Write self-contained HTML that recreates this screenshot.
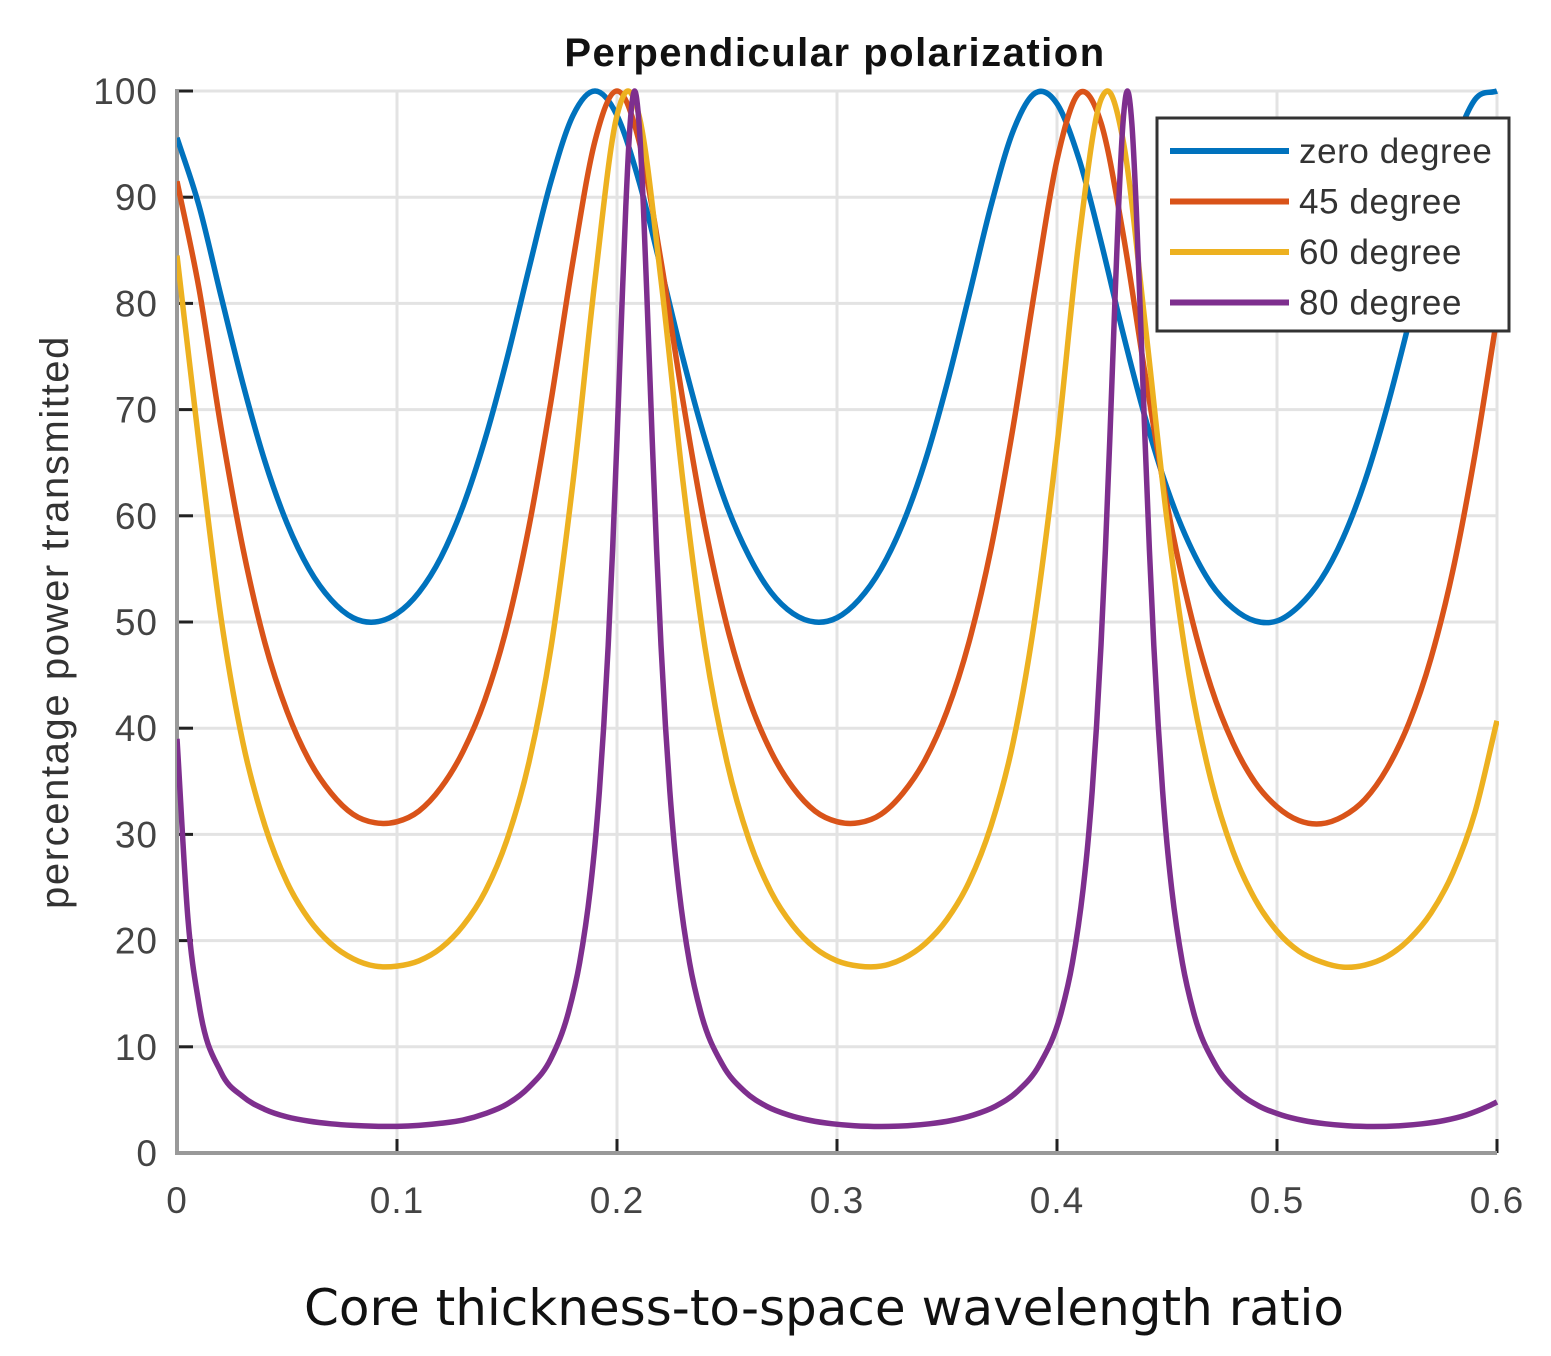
<!DOCTYPE html>
<html><head><meta charset="utf-8">
<style>
html,body{margin:0;padding:0;background:#fff;}
svg text{font-family:"Liberation Sans",sans-serif;}
</style></head>
<body>
<svg id="chart" width="1551" height="1351" viewBox="0 0 1551 1351" xmlns="http://www.w3.org/2000/svg">
<defs><clipPath id="clip"><rect x="177" y="86" width="1322" height="1070"/></clipPath></defs>
<rect width="1551" height="1351" fill="#fff"/>
<g id="grid"></g>
<g id="axes"></g>
<g id="series" clip-path="url(#clip)"></g>
<text x="835" y="66" text-anchor="middle" font-size="40" font-weight="bold" fill="#111" letter-spacing="1.5">Perpendicular polarization</text>
<text transform="translate(68,622) rotate(-90)" text-anchor="middle" font-size="40" fill="#333" letter-spacing="1.6">percentage power transmitted</text>
<text x="824" y="1325" text-anchor="middle" font-size="50" fill="#111" style="font-family:'DejaVu Sans',sans-serif">Core thickness-to-space wavelength ratio</text>
<g id="legend"></g>
</svg>
<script>
const xTicks = [0, 0.1, 0.2, 0.3, 0.4, 0.5, 0.6];
const xTickLabels = ["0", "0.1", "0.2", "0.3", "0.4", "0.5", "0.6"];
const yTicks = [0, 10, 20, 30, 40, 50, 60, 70, 80, 90, 100];
const seriesNames = ["zero degree", "45 degree", "60 degree", "80 degree"];
const seriesColors = ["#0072BD", "#D95319", "#EDB120", "#7E2F8E"];

const xGrid = [0,0.01,0.02,0.03,0.04,0.05,0.06,0.07,0.08,0.09,0.1,0.11,0.12,0.13,0.14,0.15,0.16,0.17,0.18,0.19,0.2,0.21,0.22,0.23,0.24,0.25,0.26,0.27,0.28,0.29,0.3,0.31,0.32,0.33,0.34,0.35,0.36,0.37,0.38,0.39,0.4,0.41,0.42,0.43,0.44,0.45,0.46,0.47,0.48,0.49,0.5,0.51,0.52,0.53,0.54,0.55,0.56,0.57,0.58,0.59,0.6];
const yZero = [95.6,89.2,80.7,72.4,65.1,59.3,55.0,52.1,50.4,50.0,50.8,52.8,56.1,60.9,67.2,74.8,83.3,91.5,97.7,100,97.7,91.5,83.3,74.8,67.2,60.9,56.2,52.8,50.8,50.0,50.4,52.1,55.0,59.3,65.1,72.4,80.7,89.2,96.2,99.8,98.8,93.6,85.8,77.2,69.3,62.6,57.4,53.6,51.3,50.1,50.1,51.5,54.0,57.9,63.3,70.2,78.2,86.8,94.4,99.2,100];
const y45 = [91.5,81.4,68.3,56.9,48.0,41.6,37.0,33.9,31.9,31.1,31.2,32.2,34.4,37.8,42.7,49.6,59.0,70.8,84.0,95.3,100,95.3,84.0,70.8,59.0,49.6,42.7,37.8,34.4,32.2,31.2,31.1,31.9,33.9,37.0,41.6,48.1,56.9,68.3,81.4,93.5,99.8,97.0,86.6,73.4,61.1,51.4,43.9,38.6,34.9,32.6,31.3,31.0,31.7,33.3,36.2,40.5,46.6,54.9,65.8,78.7];
const x60 = [0,0.01,0.02,0.03,0.04,0.05,0.06,0.07,0.08,0.09,0.1,0.11,0.12,0.13,0.14,0.15,0.16,0.17,0.18,0.19,0.2,0.205,0.21,0.22,0.23,0.24,0.25,0.26,0.27,0.28,0.29,0.3,0.31,0.32,0.33,0.34,0.35,0.36,0.37,0.38,0.39,0.4,0.41,0.42,0.423,0.43,0.44,0.45,0.46,0.47,0.48,0.49,0.5,0.51,0.52,0.53,0.54,0.55,0.56,0.57,0.58,0.59,0.6];
const y60 = [84.5,66.8,50.4,38.6,30.8,25.5,22.0,19.7,18.3,17.6,17.6,18.1,19.3,21.4,24.6,29.5,36.8,47.6,63.2,82.2,97.7,100,97.7,82.2,63.2,47.6,36.8,29.5,24.6,21.4,19.3,18.1,17.6,17.6,18.3,19.7,22.0,25.5,30.8,38.6,50.4,66.6,86.0,99.2,100,95.4,78.2,59.6,45.0,35.1,28.4,23.9,20.9,19.0,18.0,17.5,17.7,18.5,20.1,22.6,26.4,32.1,40.7];
const x80 = [0,0.005,0.01,0.02,0.03,0.04,0.05,0.06,0.07,0.08,0.09,0.1,0.11,0.12,0.13,0.14,0.15,0.16,0.17,0.178,0.183,0.188,0.19,0.192,0.194,0.196,0.198,0.2,0.202,0.204,0.206,0.208,0.21,0.212,0.214,0.216,0.218,0.22,0.222,0.224,0.226,0.228,0.233,0.238,0.248,0.258,0.268,0.278,0.288,0.298,0.308,0.32,0.332,0.342,0.352,0.362,0.372,0.382,0.392,0.402,0.407,0.412,0.414,0.416,0.418,0.42,0.422,0.424,0.426,0.428,0.43,0.432,0.434,0.436,0.438,0.44,0.442,0.444,0.446,0.448,0.45,0.452,0.457,0.462,0.472,0.482,0.492,0.502,0.512,0.522,0.532,0.544,0.556,0.566,0.576,0.586,0.596,0.6];
const y80 = [39,22,14,7.6,5.3,4.1,3.4,3.0,2.75,2.6,2.52,2.51,2.6,2.8,3.1,3.7,4.6,6.2,8.9,13.3,17.9,25.1,29.1,34.1,40.3,47.8,56.8,67.2,78.4,89.1,97.0,100,97.0,89.1,78.4,67.2,56.8,47.8,40.3,34.1,29.1,25.1,17.9,13.3,8.3,5.8,4.4,3.58,3.06,2.75,2.57,2.50,2.57,2.75,3.06,3.58,4.4,5.8,8.3,13.3,17.9,25.1,29.1,34.1,40.3,47.8,56.8,67.2,78.4,89.1,97.0,100,97.0,89.1,78.4,67.2,56.8,47.8,40.3,34.1,29.1,25.1,17.9,13.3,8.3,5.8,4.4,3.58,3.06,2.75,2.57,2.50,2.57,2.75,3.06,3.58,4.4,4.8];

const X0=177, X1=1497, Y0=1153, Y1=91;
const xS = v => X0 + (v/0.6)*(X1-X0);
const yS = v => Y0 - (v/100)*(Y0-Y1);
const NS="http://www.w3.org/2000/svg";
function mk(tag, attrs, parent){const e=document.createElementNS(NS,tag);for(const k in attrs)e.setAttribute(k,attrs[k]);parent.appendChild(e);return e;}

const grid=document.getElementById('grid'), axes=document.getElementById('axes'), series=document.getElementById('series'), legend=document.getElementById('legend');
xTicks.forEach((t,i)=>{
  const l=mk('line',{x1:xS(t),x2:xS(t),y1:Y1,y2:Y0,stroke:'#e3e3e3','stroke-width':3},grid);
  
  
  const tk=mk('line',{x1:xS(t),x2:xS(t),y1:Y0,y2:Y0-14,stroke:'#222','stroke-width':3},axes);
  
  
  const tx=mk('text',{x:xS(t),y:Y0+60,'text-anchor':'middle','font-size':37,fill:'#444','letter-spacing':1},axes);
  tx.textContent=xTickLabels[i];
  
  
});
yTicks.forEach(t=>{
  const l=mk('line',{x1:X0,x2:X1,y1:yS(t),y2:yS(t),stroke:'#e3e3e3','stroke-width':3},grid);
  
  
  const tk=mk('line',{x1:X0,x2:X0+16,y1:yS(t),y2:yS(t),stroke:'#222','stroke-width':3},axes);
  
  
  const tx=mk('text',{x:158,y:yS(t)+13,'text-anchor':'end','font-size':37,fill:'#444','letter-spacing':1},axes);
  tx.textContent=String(t);
  
  
});
const ax1=mk('line',{x1:X0,x2:X0,y1:Y1-2,y2:Y0+2,stroke:'#999','stroke-width':4},axes);


const ax2=mk('line',{x1:X0-2,x2:X1,y1:Y0,y2:Y0,stroke:'#999','stroke-width':4},axes);



// cubic Hermite with finite-difference tangents (non-uniform spacing aware)
function pathFor(xs, ys){
  const n=xs.length, px=xs.map(xS), py=ys.map(yS);
  const t=[];
  for(let i=0;i<n;i++){
    const a=Math.max(0,i-1), b=Math.min(n-1,i+1);
    if(i>0 && i<n-1){
      const m0=(py[i]-py[i-1])/(px[i]-px[i-1]), m1=(py[i+1]-py[i])/(px[i+1]-px[i]);
      const h0=px[i]-px[i-1], h1=px[i+1]-px[i];
      t[i]=(m0*h1+m1*h0)/(h0+h1);
    } else t[i]=(py[b]-py[a])/(px[b]-px[a]);
  }
  let d='M'+px[0].toFixed(2)+','+py[0].toFixed(2);
  for(let i=0;i<n-1;i++){
    const h=(px[i+1]-px[i])/3;
    d+=' C'+(px[i]+h).toFixed(2)+','+(py[i]+t[i]*h).toFixed(2)+' '+(px[i+1]-h).toFixed(2)+','+(py[i+1]-t[i+1]*h).toFixed(2)+' '+px[i+1].toFixed(2)+','+py[i+1].toFixed(2);
  }
  return d;
}
const allX=[xGrid,xGrid,x60,x80], allY=[yZero,y45,y60,y80];
const lineNames=['zero-degree-line','45-degree-line','60-degree-line','80-degree-line'];
allX.forEach((xs,i)=>{
  const pth=mk('path',{d:pathFor(xs,allY[i]),fill:'none',stroke:seriesColors[i],'stroke-width':5.5,'stroke-linejoin':'round'},series);
  
  
});

const box=mk('rect',{x:1157,y:118,width:352,height:213,fill:'#fff',stroke:'#333','stroke-width':3},legend);


seriesNames.forEach((n,i)=>{
  const y=151+i*50.5;
  const g=mk('g',{},legend);
  
  
  mk('line',{x1:1170,x2:1289,y1:y,y2:y,stroke:seriesColors[i],'stroke-width':6},g);
  const t=mk('text',{x:1299,y:y+12,'font-size':35,fill:'#333','letter-spacing':0.6},g);
  t.textContent=n;
});
</script>
</body></html>
